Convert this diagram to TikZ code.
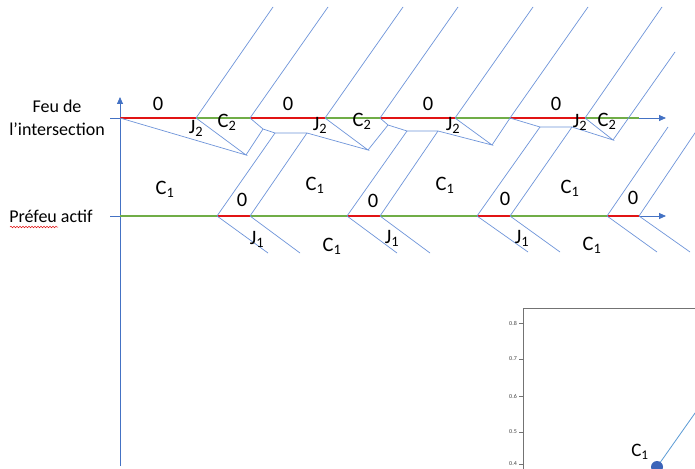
\documentclass[tikz,border=0pt]{standalone}
\usepackage{fontspec}
\setmainfont{Carlito}
\usetikzlibrary{arrows.meta,decorations.pathmorphing}
\definecolor{wblue}{RGB}{110,148,218}
\definecolor{ablue}{RGB}{68,114,196}
\definecolor{sred}{RGB}{225,20,20}
\definecolor{sgreen}{RGB}{112,173,71}
\definecolor{cblue}{RGB}{91,155,213}
\definecolor{dotblue}{RGB}{60,100,185}
\newcommand{\sbx}[1]{\textsubscript{#1}}
\begin{document}
\begin{tikzpicture}[x=1pt,y=-1pt,
  wave/.style={wblue, line width=0.7pt},
  redseg/.style={sred, line width=1.8pt},
  greenseg/.style={sgreen, line width=1.8pt},
  axisline/.style={ablue, line width=0.8pt, -{Triangle[length=7pt,width=6pt]}},
  lbl/.style={font=\fontsize{20.5}{23}\selectfont, inner sep=0pt},
  side/.style={font=\fontsize{18}{23}\selectfont, align=center, inner sep=0pt},
  ticklbl/.style={font=\fontsize{6}{7}\selectfont, text=black!75, inner sep=0pt, anchor=east},
  frame/.style={black!55, line width=0.8pt}]
\useasboundingbox (0,0) rectangle (695,468);
\clip (0,0) rectangle (695,468);
\fill[white] (0,0) rectangle (695,468);

% ---- key points ----
\foreach \n/\x in {0/120,1/196,2/250,3/325,4/380,5/455,6/510,7/585,8/639}
  \coordinate (U\n) at (\x,118);
\foreach \n/\x in {0/120,1/217,2/250,3/347,4/380,5/477,6/510,7/607,8/639}
  \coordinate (L\n) at (\x,216);
\foreach \n/\x in {1/273,2/328,3/403,4/458,5/533,6/588,7/662}
  \coordinate (T\n) at (\x,7);
\coordinate (T8) at (675,52);
\coordinate (W0) at (246,155);
\coordinate (B0) at (263,129);
\coordinate (H0a) at (275,133);
\coordinate (H0b) at (307,133);
\coordinate (W1) at (368,150);
\coordinate (B1) at (388,125);
\coordinate (H1a) at (407,131);
\coordinate (H1b) at (438,131);
\coordinate (W2) at (492,145);
\coordinate (H2a) at (540,127);
\coordinate (H2b) at (572,127);
\coordinate (W3) at (613,140);
\coordinate (E7) at (668,127);
\coordinate (E8) at (701,124);
\foreach \n/\x/\y in {1/268/253,2/300/253,3/397/253,4/430/253,5/528/252,6/560/252,7/657/252,8/690/252}
  \coordinate (D\n) at (\x,\y);
\coordinate (yb) at (120,466);
\coordinate (yt) at (120,97);
\coordinate (ua) at (110,118);
\coordinate (ue) at (666,118);
\coordinate (la) at (110,216);
\coordinate (le) at (666,216);

% ---- chart fragment (bottom right) ----
\coordinate (cf) at (523,308);
\draw[frame] (523,472) -- (cf) -- (700,308);
\foreach \v/\y in {0.8/323,0.7/359,0.6/396,0.5/432,0.4/464}{
  \draw[frame, line width=0.5pt] (519,\y) -- (523,\y);
  \node[ticklbl] at (517,\y) {\v};
}
\coordinate (dot) at (657,467);
\coordinate (cend) at (700,406);
\draw[cblue, line width=0.8pt] (dot) -- (cend);
\fill[dotblue] (dot) circle (6);
\node[lbl, font=\fontsize{19}{21}\selectfont] (cC) at (640,452) {C\sbx{1}};

% ---- axes ----
\draw[axisline] (yb) -- (yt);
\draw[axisline] (ua) -- (ue);
\draw[axisline] (la) -- (le);

% ---- signal phases ----
\draw[redseg] (U0) -- (U1);
\draw[greenseg] (U1) -- (U2);
\draw[redseg] (U2) -- (U3);
\draw[greenseg] (U3) -- (U4);
\draw[redseg] (U4) -- (U5);
\draw[greenseg] (U5) -- (U6);
\draw[redseg] (U6) -- (U7);
\draw[greenseg] (U7) -- (U8);

\draw[greenseg] (L0) -- (L1);
\draw[redseg] (L1) -- (L2);
\draw[greenseg] (L2) -- (L3);
\draw[redseg] (L3) -- (L4);
\draw[greenseg] (L4) -- (L5);
\draw[redseg] (L5) -- (L6);
\draw[greenseg] (L6) -- (L7);
\draw[redseg] (L7) -- (L8);

% ---- waves above the intersection ----
\foreach \n in {1,...,7} \draw[wave] (U\n) -- (T\n);
\draw[wave] (W3) -- (T8);

% ---- queues below the intersection ----
\draw[wave] (U0) -- (W0) -- (U1);
\draw[wave] (W0) -- (B0);
\draw[wave] (U2) -- (B0) -- (H0a) -- (H0b) -- (W1) -- (U3);
\draw[wave] (W1) -- (B1);
\draw[wave] (U4) -- (B1) -- (H1a) -- (H1b) -- (W2) -- (U5);
\draw[wave] (W2) -- (U6);
\draw[wave] (U6) -- (H2a) -- (H2b) -- (W3) -- (U7);

% ---- waves from the pre-signal ----
\draw[wave] (L1) -- (H0a);
\draw[wave] (L2) -- (H0b);
\draw[wave] (L3) -- (H1a);
\draw[wave] (L4) -- (H1b);
\draw[wave] (L5) -- (H2a);
\draw[wave] (L6) -- (H2b);
\draw[wave] (L7) -- (E7);
\draw[wave] (L8) -- (E8);
\foreach \n in {1,...,8} \draw[wave] (L\n) -- (D\n);

% ---- side labels ----
\node[side] (feu) at (57,118) {Feu de\\l’intersection};
\node[side] (pre) at (51,216) {Préfeu actif};
\draw[sred, line width=0.5pt, decorate, decoration={snake, amplitude=0.8pt, segment length=3pt}] (10,227) -- (58,227);

% ---- labels ----
\foreach \x in {158,288,428,556} \node[lbl] at (\x,104) {0};
\foreach \x/\y in {196/128,320/125,453/125,580/122} \node[lbl] at (\x,\y) {J\sbx{2}};
\foreach \x/\y in {227/122,362/121,607/121} \node[lbl] at (\x,\y) {C\sbx{2}};
\foreach \x/\y in {165/189,315/185,445/185,570/188,332/246,592/245} \node[lbl] at (\x,\y) {C\sbx{1}};
\foreach \x/\y in {242/200,373/201,505/199,633/198} \node[lbl] at (\x,\y) {0};
\foreach \x/\y in {257/239,392/238,522/238} \node[lbl] at (\x,\y) {J\sbx{1}};
\end{tikzpicture}
\end{document}
